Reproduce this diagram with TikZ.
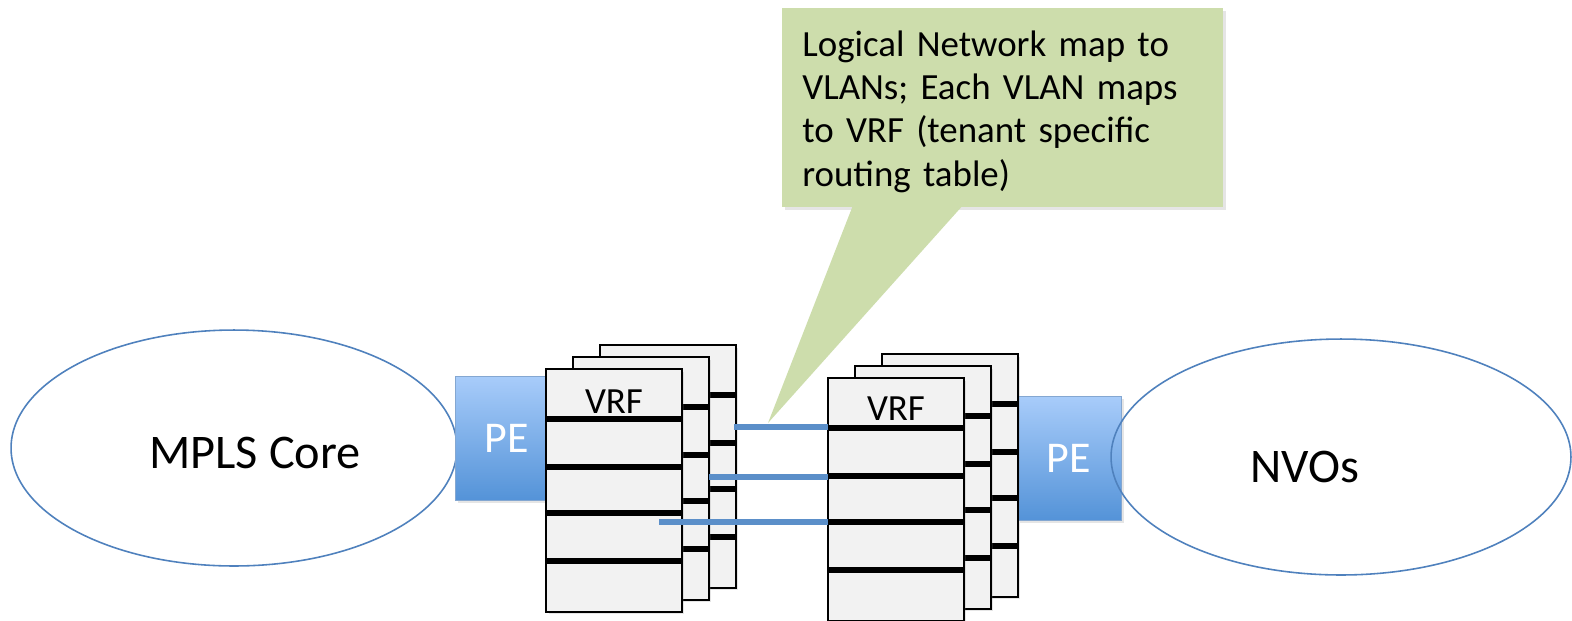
\documentclass[tikz,border=0pt]{standalone}
\usepackage{fontspec}
\setmainfont{Carlito}
\usepackage{tikz}
\usetikzlibrary{shapes}
\usetikzlibrary{shapes.geometric}
\usetikzlibrary{shadows}

\definecolor{ovalblue}{RGB}{79,129,189}
\definecolor{linkblue}{RGB}{91,143,201}
\definecolor{petop}{RGB}{168,204,250}
\definecolor{pebottom}{RGB}{84,147,216}
\definecolor{notegreen}{RGB}{205,221,172}
\definecolor{vrfgray}{RGB}{242,242,242}

\newcommand{\ovalfont}{\fontsize{27.5}{33}\selectfont}
\newcommand{\pefont}{\fontsize{25}{30}\selectfont}
\newcommand{\vrffont}{\fontsize{21}{25}\selectfont}
\newcommand{\notefont}{\fontsize{21}{24.6}\selectfont}

\begin{document}
\begin{tikzpicture}[x=0.02cm, y=-0.02cm,
  oval/.style={ellipse, draw=ovalblue, line width=0.9pt, inner sep=0, minimum height=4.72cm},
  pe/.style={rectangle, draw=ovalblue!70, line width=0.4pt, top color=petop, bottom color=pebottom, text=white, font=\pefont, minimum width=2.08cm, minimum height=2.48cm, drop shadow={opacity=0.2, shadow xshift=0.05cm, shadow yshift=-0.05cm}},
  vrfbox/.style={rectangle, draw, line width=1pt, fill=vrfgray, outer sep=0, minimum width=2.72cm, minimum height=4.86cm, drop shadow={opacity=0.2, shadow xshift=0.05cm, shadow yshift=-0.05cm}},
  row/.style={line width=3pt},
  link/.style={linkblue, line width=3pt},
  note/.style={rectangle, fill=notegreen, font=\notefont, align=left, text width=8.02cm, inner xsep=0.4cm, inner ysep=0.3cm, minimum height=3.84cm, drop shadow={opacity=0.2, shadow xshift=0.06cm, shadow yshift=-0.06cm}}]

\fill [white] (0,0) rectangle (1572,620);
\useasboundingbox (0,0) rectangle (1572,620);

% left side
\node [oval, minimum width=8.92cm, label={[font=\ovalfont, xshift=0.42cm, yshift=-0.1cm]center:MPLS Core}] (CORE) at (234,448) {};
\node [pe] (PEL) at (507,438) {PE};
\foreach \n/\x/\y in {L2/600/345, L1/573/357, L0/546/369} {
  \node [vrfbox, anchor=north west] (\n) at (\x,\y) {};
  \foreach \d in {1,1.96,2.88,3.84}
    \draw [row] ([yshift=-\d cm]\n.north west) -- ([yshift=-\d cm]\n.north east);
}
\node [font=\vrffont] (VRFL) at ([yshift=-0.66cm]L0.north) {VRF};

% right side
\node [pe] (PER) at (1069,458) {PE};
\node [oval, minimum width=9.2cm, label={[font=\ovalfont, xshift=-0.72cm, yshift=-0.2cm]center:NVOs}] (NVO) at (1341,457) {};
\foreach \n/\x/\y in {R2/882/354, R1/855/366, R0/828/378} {
  \node [vrfbox, anchor=north west] (\n) at (\x,\y) {};
  \foreach \d in {1,1.96,2.88,3.84}
    \draw [row] ([yshift=-\d cm]\n.north west) -- ([yshift=-\d cm]\n.north east);
}
\node [font=\vrffont] (VRFR) at ([yshift=-0.62cm]R0.north) {VRF};

% callout
\node [note, anchor=north west] (NOTE) at (782,8) {\rule{0pt}{0.66cm}Logical Network map to\\VLANs; Each VLAN maps\\to VRF (tenant specific\\routing table)};
\coordinate (TIP) at (768,423);
\fill [notegreen] ([xshift=1.42cm, yshift=0.05cm]NOTE.south west) -- (TIP) -- ([xshift=3.62cm, yshift=0.05cm]NOTE.south west) -- cycle;

% links between the tables
\coordinate (A1) at (734,427);
\coordinate (A2) at (709,477);
\coordinate (A3) at (659,522);
\draw [link] (A1) -- (A1 -| R0.west);
\draw [link] (A2) -- (A2 -| R0.west);
\draw [link] (A3) -- (A3 -| R0.west);
\end{tikzpicture}
\end{document}
